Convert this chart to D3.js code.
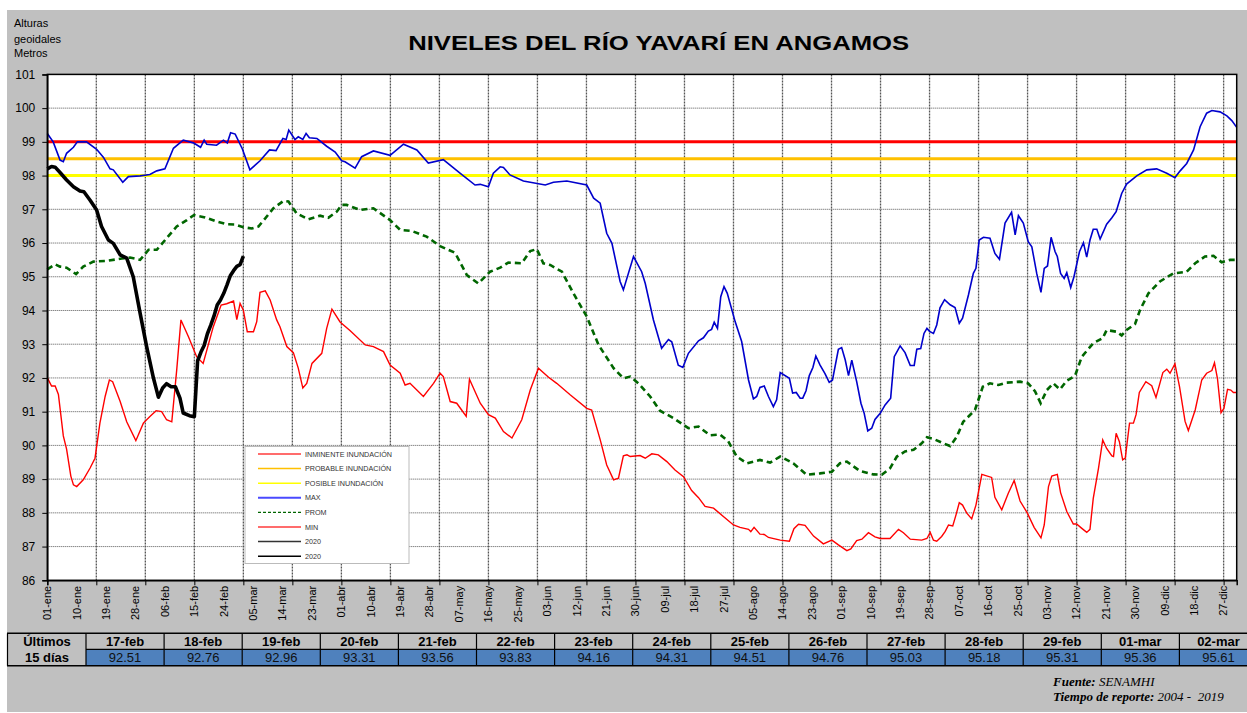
<!DOCTYPE html>
<html><head><meta charset="utf-8">
<script src="https://cdn.jsdelivr.net/npm/d3@7"></script>
<style>html,body{margin:0;padding:0;background:#fff;}svg{display:block;font-family:"Liberation Sans",Arial,sans-serif;}</style>
</head><body>
<svg id="chart" width="1247" height="713"></svg>
<script>
// ---------- DATA ----------
const xTickLabels = ["01-ene","10-ene","19-ene","28-ene","06-feb","15-feb","24-feb","05-mar","14-mar","23-mar","01-abr","10-abr","19-abr","28-abr","07-may","16-may","25-may","03-jun","12-jun","21-jun","30-jun","09-jul","18-jul","27-jul","05-ago","14-ago","23-ago","01-sep","10-sep","19-sep","28-sep","07-oct","16-oct","25-oct","03-nov","12-nov","21-nov","30-nov","09-dic","18-dic","27-dic"];
const yTicks = [86,87,88,89,90,91,92,93,94,95,96,97,98,99,100,101];
const thresholds = [
  {name:"INMINENTE INUNDACIÓN", value:99, color:"#ff0000"},
  {name:"PROBABLE INUNDACIÓN", value:98.5, color:"#ffc000"},
  {name:"POSIBLE INUNDACIÓN", value:98, color:"#ffff00"}
];
// [day of year index, level]
const maxSeries = [[0,99.25],[1.8,99.0],[3.9,98.46],[4.9,98.41],[5.9,98.66],[8,98.84],[9.2,99.0],[12,99.0],[15.1,98.78],[17.2,98.54],[19.2,98.2],[20.2,98.17],[23.1,97.8],[24.8,97.97],[28.4,97.99],[31.4,98.03],[33.5,98.14],[36,98.2],[38.6,98.81],[41.6,99.05],[44.7,98.97],[46.9,98.84],[48,99.05],[48.8,98.93],[51.8,98.9],[53.9,99.05],[55.1,98.97],[56.1,99.27],[57.5,99.23],[59.7,98.79],[62,98.17],[65.1,98.44],[68,98.76],[70,98.74],[72.1,99.1],[73.1,99.07],[73.9,99.35],[75.8,99.07],[76.8,99.15],[78.2,99.07],[79.2,99.25],[80.2,99.12],[82.5,99.1],[85.5,98.87],[88.1,98.7],[90.1,98.44],[91.1,98.41],[94.2,98.22],[96.2,98.56],[99.8,98.73],[104.9,98.6],[109,98.93],[113.1,98.76],[116.6,98.37],[121.2,98.47],[126.3,98.07],[130.9,97.72],[132.5,97.74],[135,97.67],[136.5,98.07],[138.6,98.26],[139.6,98.24],[141.6,98.02],[145.7,97.84],[152.4,97.72],[154.9,97.8],[159,97.84],[165.1,97.72],[167.2,97.33],[169.2,97.18],[171.2,96.29],[172.8,95.99],[175.3,94.86],[176.3,94.61],[179.4,95.6],[181.9,95.15],[183,94.8],[185.5,93.72],[188,92.88],[190.1,93.14],[191.1,93.07],[193.1,92.38],[194.5,92.31],[196.2,92.73],[199.3,93.1],[200.8,93.19],[202.3,93.39],[203.3,93.44],[204.1,93.65],[205.1,93.47],[206.1,94.41],[207.1,94.71],[208.1,94.51],[210.5,93.67],[212.5,93.08],[214.6,91.94],[216.1,91.38],[217.1,91.45],[218.1,91.72],[219.4,91.76],[220.7,91.45],[222.2,91.15],[223.2,91.35],[224.3,92.16],[227.1,91.99],[228.1,91.55],[229.2,91.57],[230.4,91.4],[231.2,91.4],[232.2,91.62],[233.2,92.07],[234.3,92.31],[235.2,92.65],[236.5,92.38],[238,92.13],[239.3,91.87],[240.3,91.94],[242.1,92.85],[243.1,92.9],[244.2,92.53],[245.2,92.07],[246.2,92.53],[247.7,91.89],[249,91.25],[250,90.95],[251.1,90.43],[252.3,90.51],[253.3,90.77],[254.9,90.95],[256.4,91.2],[258.1,91.4],[259.2,92.63],[261,92.95],[262.5,92.75],[264.1,92.37],[265.3,92.37],[266.1,92.85],[267.3,92.87],[268.3,93.32],[269.2,93.47],[270,93.38],[271.2,93.32],[272.2,93.57],[273.2,94.08],[274.6,94.32],[276.3,94.17],[277.8,94.09],[279.1,93.62],[280.1,93.77],[281.9,94.46],[283.4,95.1],[284.2,95.25],[285.2,96.09],[286.5,96.17],[288.5,96.14],[290,95.69],[291.4,95.52],[293.1,96.59],[295.1,96.91],[296.2,96.24],[297.2,96.81],[298.7,96.59],[300.2,96.04],[301.3,95.89],[302.8,95.1],[304.1,94.54],[305.1,95.25],[306.1,95.32],[307.2,96.17],[308.4,95.75],[309.1,95.6],[310.1,95.1],[311.2,94.95],[312,95.12],[313.2,94.68],[314.2,95.0],[315.9,95.75],[317.1,96.01],[318.1,95.58],[319.1,96.09],[320.1,96.41],[321.2,96.41],[322.2,96.12],[324.2,96.56],[325.8,96.75],[327.1,96.93],[328.8,97.47],[330.3,97.75],[333.4,97.99],[336.5,98.17],[339.5,98.2],[342.6,98.07],[345.1,97.94],[346.7,98.14],[348.7,98.36],[350.8,98.76],[352.8,99.45],[354.8,99.85],[356.4,99.93],[358.9,99.89],[361,99.77],[362.5,99.63],[364,99.43]];
const promSeries = [[0,95.22],[2.4,95.37],[3.9,95.3],[5.9,95.27],[8.8,95.08],[11,95.3],[14.1,95.45],[18.2,95.47],[22.8,95.54],[25.3,95.57],[28.4,95.5],[31,95.8],[33.5,95.8],[36.5,96.14],[39.6,96.49],[42.7,96.68],[44.9,96.83],[48.3,96.76],[51.8,96.64],[54.9,96.56],[57.5,96.55],[60,96.47],[62.6,96.43],[64.6,96.49],[66.7,96.73],[69.2,97.03],[72.3,97.25],[73.8,97.23],[76.3,96.88],[79.9,96.7],[83.5,96.81],[86,96.75],[88.6,96.93],[90.1,97.13],[91.6,97.13],[95.7,96.98],[99.8,97.03],[104.9,96.68],[108,96.39],[111.5,96.36],[116.1,96.19],[120.2,95.91],[124.8,95.71],[128.4,95.05],[131.9,94.8],[135.5,95.15],[138.6,95.27],[141.1,95.42],[145.2,95.4],[147.8,95.76],[149.8,95.82],[151.8,95.4],[153.9,95.35],[157.5,95.15],[161,94.51],[165.1,93.82],[168.7,92.98],[173.3,92.29],[176.3,91.99],[178.4,92.04],[180.9,91.84],[184.5,91.45],[187.5,91.03],[191.6,90.81],[196.2,90.51],[199.3,90.56],[202.8,90.3],[205.9,90.32],[208.4,90.12],[211,89.67],[214.1,89.47],[218.1,89.57],[221.2,89.49],[224.3,89.67],[228.3,89.47],[232.4,89.13],[236.5,89.17],[240.1,89.22],[242.6,89.47],[244.7,89.52],[248.7,89.24],[252.8,89.14],[255.4,89.13],[257.9,89.32],[260,89.67],[262.5,89.82],[265.1,89.87],[267.6,90.06],[269.2,90.24],[271.2,90.19],[274.3,90.06],[276.3,89.98],[278.3,90.25],[280.3,90.7],[283.9,91.05],[286.3,91.74],[288.5,91.84],[291.1,91.79],[293.6,91.86],[297.7,91.89],[300.2,91.84],[302.3,91.6],[304,91.25],[305.9,91.64],[307.9,91.84],[309.9,91.66],[312,91.92],[314.5,92.06],[316.6,92.63],[320.1,93.03],[323,93.18],[324.2,93.42],[327.3,93.37],[328.8,93.26],[330.3,93.42],[332.9,93.6],[334.4,94.01],[337,94.51],[340.5,94.86],[344.6,95.1],[348.7,95.15],[351.3,95.4],[354.3,95.6],[356.9,95.62],[359.4,95.43],[362,95.5],[364,95.5]];
const minSeries = [[0,92.01],[1.3,91.76],[2.4,91.76],[3.4,91.51],[4.9,90.28],[5.9,89.89],[7.2,89.09],[8,88.83],[9,88.78],[11,88.98],[13.1,89.33],[14.6,89.62],[16.1,90.66],[17.7,91.45],[19,91.94],[20,91.89],[22.3,91.3],[24.3,90.7],[27.1,90.14],[29.4,90.66],[31.4,90.86],[33.3,91.03],[35,91.0],[36.5,90.76],[38.1,90.7],[39.6,92.23],[40.9,93.72],[43.2,93.22],[45.7,92.63],[47.7,92.43],[50.8,93.52],[53.2,94.16],[54.9,94.2],[57,94.28],[58,93.73],[59,94.21],[60,94.01],[61.2,93.37],[63.1,93.37],[64.1,93.67],[65.1,94.54],[66.7,94.58],[68.2,94.31],[70.2,93.72],[71.2,93.52],[73.3,92.93],[75.3,92.75],[76.8,92.29],[78.2,91.7],[79.4,91.84],[81,92.43],[84,92.73],[85.5,93.47],[87.1,94.04],[89.6,93.66],[92.7,93.4],[97.3,92.98],[99.8,92.93],[102.9,92.78],[104.9,92.38],[108,92.14],[109.5,91.79],[111,91.84],[115.1,91.45],[118.2,91.84],[120.2,92.14],[121.2,92.04],[123.3,91.3],[125.3,91.25],[126.8,91.05],[128.2,90.86],[129.2,91.96],[132.5,91.25],[135,90.91],[137.1,90.81],[139.6,90.41],[142.2,90.22],[145.2,90.76],[147.8,91.64],[150.3,92.29],[153.4,92.02],[155.9,91.84],[160,91.5],[165.1,91.1],[166.6,91.05],[169.2,90.17],[171.2,89.42],[173.3,88.98],[174.8,89.03],[176.3,89.69],[177.4,89.72],[178.4,89.67],[181.4,89.7],[183,89.62],[185,89.75],[187,89.72],[189.6,89.52],[192.1,89.27],[194.7,89.07],[197.2,88.66],[199.3,88.45],[201.3,88.19],[203.9,88.14],[206.9,87.89],[210,87.64],[212,87.57],[214.6,87.51],[215.3,87.44],[216.3,87.57],[218.1,87.37],[219.4,87.36],[220.7,87.27],[224.3,87.19],[227.1,87.16],[228.5,87.53],[229.9,87.66],[231.9,87.63],[234.5,87.31],[237.5,87.08],[240.1,87.19],[242.1,87.05],[244.7,86.88],[245.9,86.93],[247.7,87.18],[249.3,87.22],[251.3,87.41],[253.3,87.29],[254.9,87.24],[257.9,87.24],[260.5,87.51],[262,87.41],[264.1,87.22],[267.6,87.19],[269.2,87.24],[270.2,87.42],[271.2,87.19],[272.2,87.16],[273.7,87.3],[274.8,87.45],[275.8,87.64],[277.1,87.61],[278.1,87.94],[279.1,88.3],[280.1,88.23],[281.4,87.99],[282.9,87.82],[284.2,88.23],[286,89.14],[289,89.05],[290,88.46],[292.1,88.09],[294.1,88.58],[295.9,88.96],[297.7,88.35],[299.9,88.0],[302,87.57],[304.1,87.26],[305.1,87.64],[306.4,88.78],[307.4,89.09],[309.1,89.14],[310.1,88.6],[312,88.04],[314,87.67],[315,87.67],[316.6,87.54],[318.1,87.42],[319.1,87.51],[320.1,88.43],[321.7,89.32],[323,90.16],[324.2,89.91],[325.8,89.69],[326.3,89.67],[327.1,90.36],[328.1,90.11],[329.1,89.57],[329.9,89.62],[331.2,90.66],[332.4,90.66],[333.2,90.91],[334.2,91.57],[336.2,91.89],[338,91.77],[339.3,91.42],[341.4,92.16],[342.6,92.26],[343.6,92.14],[345.1,92.42],[346.5,91.74],[348.2,90.71],[349.2,90.44],[351.3,91.05],[353.3,91.94],[354.8,92.14],[356.4,92.22],[357.2,92.45],[358.1,91.99],[359.2,90.97],[360.1,91.1],[361.2,91.66],[362.2,91.64],[363,91.57],[364,91.57]];
const series2020 = [[0,98.2],[1.3,98.27],[2.4,98.25],[3.9,98.09],[5.9,97.87],[8,97.67],[10,97.54],[11.2,97.52],[13.1,97.27],[15.1,96.98],[16.6,96.49],[18.7,96.09],[20.2,95.99],[22.3,95.65],[24.3,95.55],[26.3,95.0],[28.4,93.92],[30.4,92.93],[32.5,91.99],[34,91.43],[35.3,91.7],[36.5,91.83],[37.9,91.74],[39.2,91.74],[40.6,91.4],[41.6,90.96],[43.5,90.88],[45,90.85],[46,92.51],[47,92.76],[48,92.96],[49,93.31],[50,93.56],[51,93.83],[52,94.16],[53,94.31],[54,94.51],[55,94.76],[56,95.03],[57,95.18],[58,95.31],[59,95.36],[60,95.61]];
const tableDates = ["17-feb","18-feb","19-feb","20-feb","21-feb","22-feb","23-feb","24-feb","25-feb","26-feb","27-feb","28-feb","29-feb","01-mar","02-mar"];
const tableValues = [92.51,92.76,92.96,93.31,93.56,93.83,94.16,94.31,94.51,94.76,95.03,95.18,95.31,95.36,95.61];

// ---------- DRAW ----------
const svg = d3.select("#chart");
const W = 1247, H = 713;
const L = 47.3, R = 1236.7, T = 74.4, B = 580.3;
const x = d3.scaleLinear().domain([0,364]).range([L,R]);
const y = d3.scaleLinear().domain([86,101]).range([B,T]);

svg.append("rect").attr("width",W).attr("height",H).attr("fill","#fff");
svg.append("rect").attr("x",7).attr("y",10).attr("width",W-7).attr("height",702).attr("fill","#c0c0c0");

// title
svg.append("text").attr("x",658.7).attr("y",50).attr("text-anchor","middle")
  .attr("font-size",21).attr("font-weight","bold").attr("fill","#000")
  .attr("textLength",501).attr("lengthAdjust","spacingAndGlyphs")
  .text("NIVELES DEL RÍO YAVARÍ EN ANGAMOS");
// axis title
["Alturas","geoidales","Metros"].forEach((t,i)=>{
  svg.append("text").attr("x",14).attr("y",[26.5,42.5,57][i]).attr("font-size",11).attr("fill","#000").text(t);
});

// plot area
svg.append("rect").attr("x",L).attr("y",T).attr("width",R-L).attr("height",B-T).attr("fill","#fff");

const g = svg.append("g");
// horizontal grid
g.selectAll("line.hg").data(yTicks.filter(v=>v>86&&v<101)).join("line")
  .attr("x1",L).attr("x2",R).attr("y1",d=>y(d)).attr("y2",d=>y(d))
  .attr("stroke","#555").attr("stroke-width",1).attr("stroke-dasharray","1,1");
// vertical grid every 15 days
const vDays = d3.range(15,365,15);
g.selectAll("line.vg").data(vDays).join("line")
  .attr("x1",d=>x(d)).attr("x2",d=>x(d)).attr("y1",T).attr("y2",B)
  .attr("stroke","#555").attr("stroke-width",1.3).attr("stroke-dasharray","2,1");

// thresholds
g.selectAll("line.th").data(thresholds).join("line")
  .attr("x1",L).attr("x2",R).attr("y1",d=>y(d.value)).attr("y2",d=>y(d.value))
  .attr("stroke",d=>d.color).attr("stroke-width",3);

const line = d3.line().x(d=>x(d[0])).y(d=>y(d[1]));
g.append("path").datum(maxSeries).attr("d",line).attr("fill","none").attr("stroke","#0000cc").attr("stroke-width",1.6);
g.append("path").datum(promSeries).attr("d",line).attr("fill","none").attr("stroke","#006600").attr("stroke-width",2.6).attr("stroke-dasharray","6,4");
g.append("path").datum(minSeries).attr("d",line).attr("fill","none").attr("stroke","#ff0000").attr("stroke-width",1.4);
g.append("path").datum(series2020).attr("d",line).attr("fill","none").attr("stroke","#000").attr("stroke-width",3.6).attr("stroke-linejoin","round");

// border
svg.append("rect").attr("x",L).attr("y",T).attr("width",R-L).attr("height",B-T).attr("fill","none").attr("stroke","#000").attr("stroke-width",1.5);

// y axis
const ya = svg.append("g").attr("transform",`translate(${L},0)`)
  .call(d3.axisLeft(y).tickValues(yTicks).tickSize(5).tickPadding(7).tickFormat(d3.format("d")));
ya.select(".domain").attr("stroke","#000").attr("stroke-width",1.5);
ya.selectAll(".tick line").attr("stroke","#000");
ya.selectAll(".tick text").attr("font-size",12).attr("fill","#000").attr("font-family","'Liberation Sans',Arial,sans-serif");

// x axis ticks
const xa = svg.append("g").attr("transform",`translate(0,${B})`)
  .call(d3.axisBottom(x).tickValues([0].concat(vDays)).tickSize(5).tickFormat(""));
xa.select(".domain").attr("stroke","#000").attr("stroke-width",1.5);
xa.selectAll(".tick line").attr("stroke","#000");
// x labels every 9 days
svg.append("g").selectAll("text").data(xTickLabels).join("text")
  .attr("transform",(d,i)=>`translate(${x(i*9)},${B+5.5}) rotate(-90)`)
  .attr("text-anchor","end").attr("dy","0.35em").attr("font-size",11).attr("fill","#000")
  .text(d=>d);

// legend
const leg = svg.append("g").attr("transform","translate(245,446.5)");
leg.append("rect").attr("width",164).attr("height",117).attr("fill","#fff").attr("stroke","#bbb").attr("stroke-width",1);
const legItems = [
  {t:"INMINENTE INUNDACIÓN", c:"#ff3b3b", w:1.5, dash:null},
  {t:"PROBABLE INUNDACIÓN", c:"#ffc000", w:1.5, dash:null},
  {t:"POSIBLE INUNDACIÓN", c:"#ffff00", w:1.5, dash:null},
  {t:"MAX", c:"#4a4aff", w:2, dash:null},
  {t:"PROM", c:"#006600", w:1.3, dash:"3,2"},
  {t:"MIN", c:"#ff3b3b", w:1.5, dash:null},
  {t:"2020", c:"#333", w:1.5, dash:null},
  {t:"2020", c:"#000", w:1.5, dash:null}
];
legItems.forEach((it,i)=>{
  const yy = 7.5 + i*14.6;
  leg.append("line").attr("x1",13).attr("x2",56).attr("y1",yy).attr("y2",yy)
    .attr("stroke",it.c).attr("stroke-width",it.w).attr("stroke-dasharray",it.dash);
  leg.append("text").attr("x",60).attr("y",yy).attr("dy","0.35em").attr("font-size",7.2).attr("fill","#333").text(it.t);
});

// table
const tb = svg.append("g");
const colX = d3.scaleLinear().domain([0,1]).range([86,164.1]);
const rowTop = 633.3, rowMid = 649.4, rowBot = 665.8;
tb.selectAll("rect.v").data(tableValues).join("rect")
  .attr("x",(d,i)=>colX(i)).attr("y",rowMid).attr("width",colX(1)-colX(0)).attr("height",rowBot-rowMid)
  .attr("fill","#4f81bd");
// grid lines of the table
tb.append("line").attr("x1",7).attr("x2",W).attr("y1",rowTop).attr("y2",rowTop).attr("stroke","#000").attr("stroke-width",1.5);
tb.append("line").attr("x1",colX(0)).attr("x2",W).attr("y1",rowMid).attr("y2",rowMid).attr("stroke","#000").attr("stroke-width",1.2);
tb.append("line").attr("x1",7).attr("x2",W).attr("y1",rowBot).attr("y2",rowBot).attr("stroke","#000").attr("stroke-width",1.5);
tb.append("line").attr("x1",7.5).attr("x2",7.5).attr("y1",rowTop).attr("y2",rowBot).attr("stroke","#000").attr("stroke-width",1.2);
tb.selectAll("line.c").data(d3.range(tableValues.length)).join("line")
  .attr("x1",d=>colX(d)).attr("x2",d=>colX(d)).attr("y1",rowTop).attr("y2",rowBot)
  .attr("stroke","#000").attr("stroke-width",1.2);
tb.append("text").attr("x",47).attr("y",646).attr("text-anchor","middle").attr("font-size",13).attr("font-weight","bold").text("Últimos");
tb.append("text").attr("x",47).attr("y",662.3).attr("text-anchor","middle").attr("font-size",13).attr("font-weight","bold").text("15 días");
tb.selectAll("text.d").data(tableDates).join("text")
  .attr("x",(d,i)=>colX(i+0.5)).attr("y",646).attr("text-anchor","middle").attr("font-size",13).attr("font-weight","bold").text(d=>d);
tb.selectAll("text.val").data(tableValues).join("text")
  .attr("x",(d,i)=>colX(i+0.5)).attr("y",662.3).attr("text-anchor","middle").attr("font-size",13).attr("fill","#111").text(d=>d3.format(".2f")(d));

// footer
const f1 = svg.append("text").attr("x",1053).attr("y",685.5).attr("font-family","'Liberation Serif','Times New Roman',serif").attr("font-size",13).attr("font-style","italic");
f1.append("tspan").attr("font-weight","bold").text("Fuente:");
f1.append("tspan").text(" SENAMHI");
const f2 = svg.append("text").attr("x",1053).attr("y",701).attr("font-family","'Liberation Serif','Times New Roman',serif").attr("font-size",13).attr("font-style","italic").attr("xml:space","preserve");
f2.append("tspan").attr("font-weight","bold").text("Tiempo de reporte:");
f2.append("tspan").text(" 2004 -  2019");
</script>
</body></html>
